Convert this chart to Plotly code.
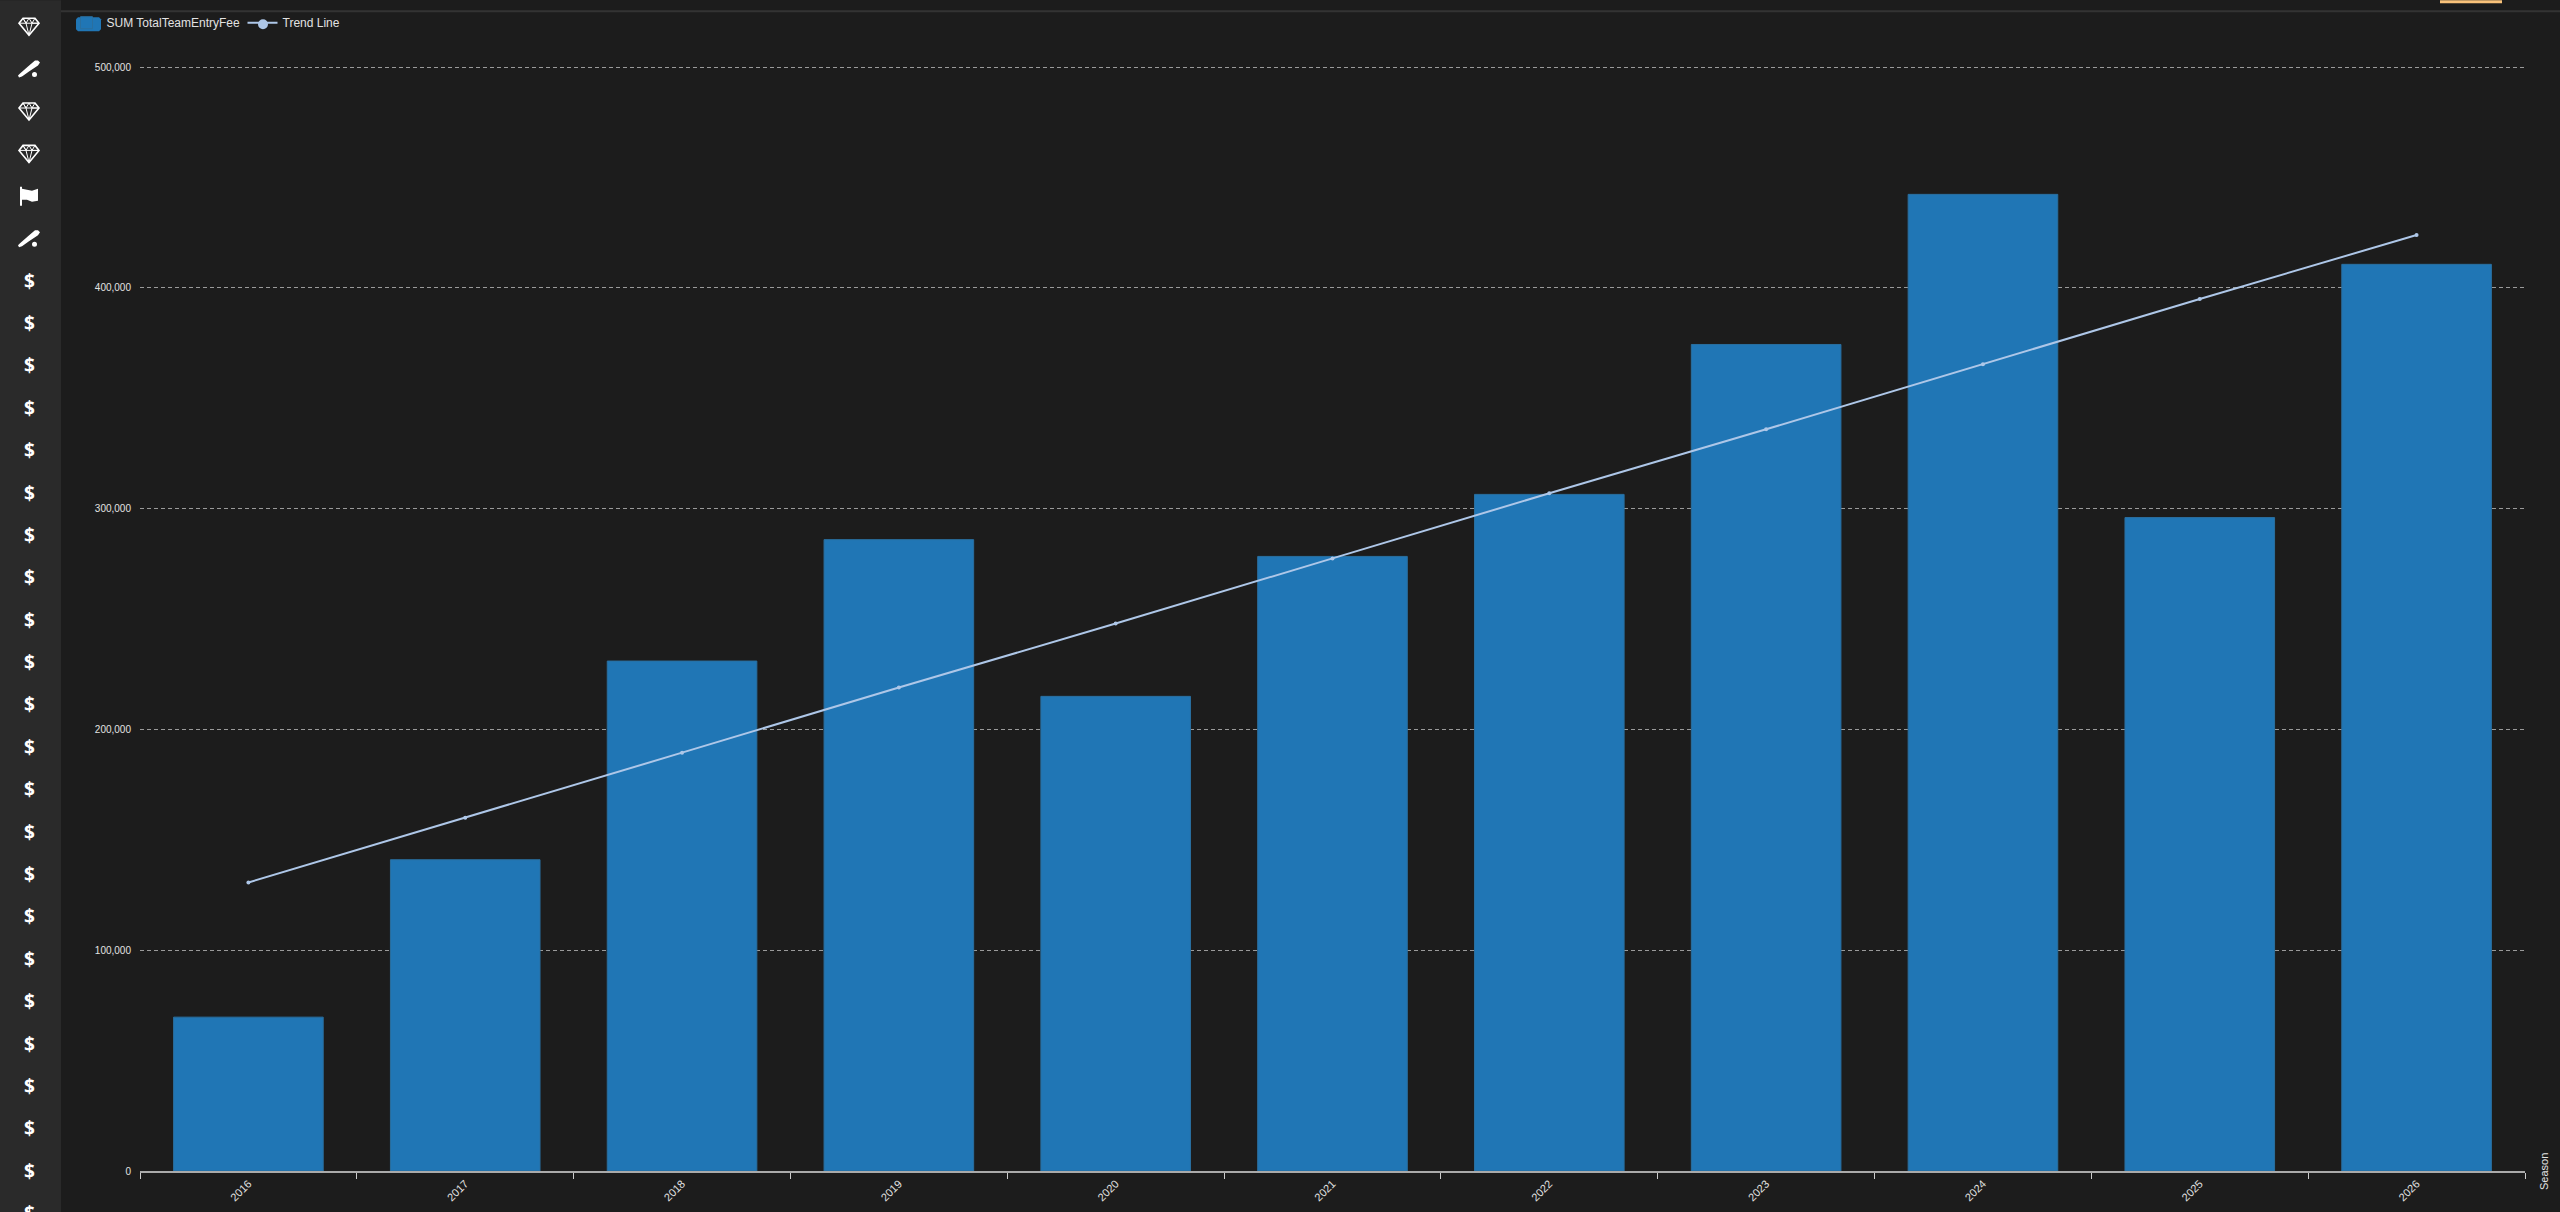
import plotly.graph_objects as go

seasons = ['2016', '2017', '2018', '2019', '2020', '2021', '2022', '2023', '2024', '2025', '2026']
entry_fees = [69700, 141000, 231000, 286000, 215000, 278400, 306500, 374400, 442400, 296000, 410700]
trend_line = [130700, 160000, 189500, 219000, 248000, 277500, 307000, 336000, 365500, 395000, 424000]
y_ticks = [0, 100000, 200000, 300000, 400000, 500000]
sidebar_icons = ['diamond', 'bat', 'diamond', 'diamond', 'flag', 'bat'] + ['$'] * 23

W, H = 2560, 1212
Y_MAX = 501000  # a bit over 500k so the top gridline gets drawn
LEFT, RIGHT, BOTTOM = 140, 2525, 1171
TOP = BOTTOM - 220.8 * Y_MAX / 100000
BG = '#1c1c1c'
SIDEBAR = '#2a2a2a'
TEXT = '#e2e2e2'
TREND = '#aec7e8'
BAR = '#2076b5'


def px(x):
    return (x - LEFT) / (RIGHT - LEFT)


def py(y):
    return (BOTTOM - y) / (BOTTOM - TOP)


def path(cx, cy, pts, close=True):
    s = 'M' + ' L'.join(f'{px(cx + a):.5f},{py(cy + b):.5f}' for a, b in pts)
    return s + (' Z' if close else '')


def paper_shape(**kw):
    return dict(xref='paper', yref='paper', **kw)


def icon_shapes(name, cx, cy):
    if name == 'diamond':
        outline = [(-6, -8), (6, -8), (10, -3), (0, 9), (-10, -3)]
        inner = [(-10, -3), (10, -3), (3, -3), (0, 9), (-3, -3), (-6, -8), (-3, -3), (0, -8), (3, -3), (6, -8)]
        return [
            paper_shape(type='path', path=path(cx, cy, outline), line=dict(color='white', width=1.6)),
            paper_shape(type='path', path=path(cx, cy, inner, close=False), line=dict(color='white', width=1)),
        ]
    if name == 'bat':
        bat = [(-11, 7), (-10, 9), (-7, 8), (0, 3), (9, -3), (11, -6), (9, -8), (6, -8), (-1, -2), (-9, 5)]
        ball = paper_shape(type='circle', x0=px(cx + 3), x1=px(cx + 8), y0=py(cy + 3.5), y1=py(cy + 8.5),
                           fillcolor='white', line=dict(width=0))
        return [paper_shape(type='path', path=path(cx, cy, bat), fillcolor='white', line=dict(width=0)), ball]
    if name == 'flag':
        flag = [(-9, -9), (-7, -9), (-7, -7), (-2, -6), (3, -5), (9, -7), (9, 5), (3, 6), (-2, 4), (-7, 4),
                (-7, 10), (-9, 10)]
        return [paper_shape(type='path', path=path(cx, cy, flag), fillcolor='white', line=dict(width=0))]
    return []


fig = go.Figure()
fig.add_trace(go.Bar(
    x=seasons, y=entry_fees,
    name='SUM TotalTeamEntryFee',
    width=0.69,
    marker=dict(color=BAR, line=dict(color='#2a6f9f', width=1)),
))
fig.add_trace(go.Scatter(
    x=seasons, y=trend_line,
    name='Trend Line',
    mode='lines+markers',
    line=dict(color=TREND, width=2),
    marker=dict(color=TREND, size=4),
))

shapes = [
    paper_shape(type='rect', x0=px(0), x1=px(61), y0=py(0), y1=py(H), fillcolor=SIDEBAR, line=dict(width=0)),
    paper_shape(type='rect', x0=px(61), x1=px(W), y0=py(10), y1=py(12), fillcolor='#333333', line=dict(width=0)),
    paper_shape(type='rect', x0=px(2440), x1=px(2502), y0=py(0), y1=py(3), fillcolor='#f9c27a', line=dict(width=0)),
    # legend keys are bigger in the original than plotly's own
    paper_shape(type='path', path=path(0, 0, [(78, 17), (99, 17), (101, 19), (101, 29), (99, 31), (78, 31), (76, 29), (76, 19)]),
                fillcolor=BAR, line=dict(width=0)),
    paper_shape(type='circle', x0=px(258), x1=px(268), y0=py(19), y1=py(29), fillcolor=TREND, line=dict(width=0)),
]
annotations = [dict(
    text='Season', xref='paper', yref='paper', x=px(2544), y=py(1172),
    xanchor='center', yanchor='middle',
    textangle=-90, showarrow=False, font=dict(size=11, color=TEXT),
)]
for i, name in enumerate(sidebar_icons):
    cy = 26 + 42.4 * i
    if name == '$':
        annotations.append(dict(
            text='<b>$</b>', xref='paper', yref='paper', x=px(29), y=py(cy),
            showarrow=False, xanchor='center', yanchor='middle',
            font=dict(size=19, color='white', family='Open Sans'),
        ))
    else:
        shapes += icon_shapes(name, 29, cy)

fig.update_layout(
    width=W, height=H,
    margin=dict(l=LEFT, r=W - RIGHT, t=TOP, b=H - BOTTOM, pad=0, autoexpand=False),
    paper_bgcolor=BG,
    plot_bgcolor=BG,
    font=dict(family='Liberation Sans', color=TEXT, size=11),
    showlegend=True,
    legend=dict(
        orientation='h', x=px(66.5), y=py(8), xanchor='left', yanchor='top',
        bgcolor='rgba(0,0,0,0)', font=dict(size=12, color=TEXT), itemwidth=30,
        entrywidth=131, entrywidthmode='pixels',
    ),
    shapes=shapes,
    annotations=annotations,
    xaxis=dict(
        type='category',
        range=[-0.5, 10.5],
        tickson='boundaries',
        ticks='outside', ticklen=6, tickwidth=1, tickcolor='#cccccc',
        tickangle=-45,
        tickfont=dict(size=11),
        showgrid=False,
        showline=True, linecolor='#aaaaaa', linewidth=2,
    ),
    yaxis=dict(
        range=[0, Y_MAX],
        tickvals=y_ticks,
        tickformat=',d',
        tickfont=dict(size=10),
        ticks='', ticklabelstandoff=8,
        showgrid=True, gridcolor='#9a9a9a', gridwidth=1, griddash='4px,3px',
        zeroline=False,
        showline=False,
    ),
)

fig.write_html('out.html', config=dict(displayModeBar=False),
               post_script="document.body.style.margin='0';document.body.style.overflow='hidden';")
